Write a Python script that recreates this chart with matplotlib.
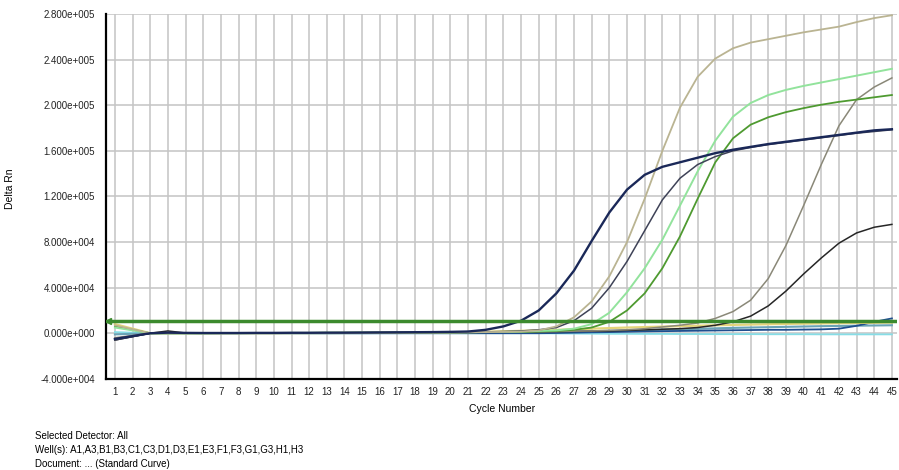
import numpy as np
import matplotlib
matplotlib.use("Agg")
import matplotlib.pyplot as plt
from matplotlib.ticker import FuncFormatter

plt.rcParams['font.family'] = ['Liberation Sans', 'DejaVu Sans']

# Amplification data (Delta Rn per cycle)
cycles = np.arange(1, 46)

navy = [-5000, -2500, 0, 500, 300, 200, 200, 200, 300, 300,
        400, 400, 500, 500, 600, 700, 800, 900, 1000, 1200,
        1500, 3000, 6000, 11000, 20000, 35000, 55000, 81000, 106000, 126000,
        139000, 146000, 150000, 154000, 158000, 161000, 163500, 166000, 168000, 170000,
        172000, 174000, 176000, 178000, 179000]
tan = [7000, 3500, 0, 0, 0, 0, 0, 100, 100, 200,
       200, 300, 300, 400, 400, 500, 500, 600, 700, 800,
       900, 1000, 1200, 1500, 2500, 6000, 14000, 28000, 50000, 80000,
       118000, 160000, 198000, 225000, 241000, 250000, 255000, 258000, 261000, 264000,
       266500, 269000, 273000, 276500, 279000]
slate = [-6000, -3000, 0, 0, 0, 100, 100, 200, 200, 300,
         300, 400, 400, 500, 500, 600, 600, 700, 800, 900,
         1000, 1200, 1500, 2000, 3000, 5000, 11000, 22000, 40000, 63000,
         90000, 117000, 136000, 148000, 155000, 160000, 163000, 165500, 167500, 169500,
         171500, 173500, 175500, 177000, 178500]
light_green = [5000, 2500, 0, 0, 0, 0, 100, 100, 200, 200,
               300, 300, 400, 400, 500, 500, 600, 600, 700, 800,
               900, 1000, 1200, 1500, 2000, 2500, 4000, 8000, 18000, 36000,
               57000, 82000, 112000, 142000, 169000, 190000, 202000, 209000, 213500, 217000,
               220000, 223000, 226000, 229000, 232000]
mid_green = [6000, 3000, 0, 0, 0, 0, 100, 100, 200, 200,
             300, 300, 400, 400, 500, 500, 600, 600, 700, 800,
             900, 1000, 1100, 1300, 1500, 2000, 3000, 5000, 10000, 20000,
             35000, 57000, 85000, 118000, 150000, 171000, 183000, 189500, 194000, 197500,
             200500, 203000, 205000, 207000, 209000]
gray_late = [-4000, -2000, 0, 0, 0, 0, 0, 100, 100, 200,
             200, 300, 300, 400, 400, 500, 500, 600, 600, 700,
             800, 900, 1000, 1100, 1300, 1500, 1800, 2000, 2500, 3000,
             4000, 5500, 7000, 9000, 13000, 19000, 29000, 48000, 77000, 112000,
             148000, 182000, 205000, 216000, 224000]
black_late = [-6000, -3000, 0, 2000, 200, 0, 0, 0, 100, 100,
              200, 200, 300, 300, 400, 400, 500, 500, 600, 600,
              700, 800, 900, 1000, 1200, 1400, 1600, 1800, 2000, 2500,
              3000, 3500, 4000, 5000, 7000, 10000, 15000, 24000, 37000, 52000,
              66000, 79000, 88000, 93000, 95500]
yellow = [8000, 4000, 0, 0, 0, 0, 0, 0, 0, 0,
          100, 100, 200, 200, 300, 300, 400, 500, 600, 800,
          1000, 1300, 1700, 2100, 2600, 3000, 3500, 4000, 4500, 5000,
          5400, 5800, 6200, 6600, 7000, 7300, 7600, 7900, 8200, 8400,
          8600, 8800, 9000, 9200, 9400]
teal = [-1000, -500, 0, 0, 0, 0, 0, 0, 0, 0,
        0, 0, 0, 100, 100, 200, 200, 300, 300, 400,
        500, 600, 700, 800, 1000, 1200, 1500, 1800, 2100, 2400,
        2800, 3100, 3500, 3900, 4300, 4700, 5000, 5300, 5600, 5900,
        6200, 6400, 6600, 6800, 7000]
navy_low = [-5000, -2500, 0, 0, 0, 0, 0, 0, 0, 0,
            0, 0, 0, 0, 0, 0, 0, 0, 0, 0,
            0, 0, 0, 0, 0, 200, 500, 800, 1000, 1300,
            1600, 1800, 2000, 2200, 2400, 2600, 2800, 3000, 3000, 3200,
            3400, 4000, 6500, 10000, 13000]
cyan = [1000, 500, 0, 0, 0, 0, 0, 0, 0, 0,
        0, 0, 0, 0, 0, 0, 0, 0, 0, 0,
        0, 0, 0, 0, 0, -200, -300, -400, -500, -500,
        -600, -600, -700, -700, -800, -800, -800, -900, -900, -900,
        -1000, -1000, -1000, -1000, -1000]
threshold = 10500

series = [
    (cyan, "#86dde6", 1.3),
    (teal, "#6aa3b6", 1.5),
    (navy_low, "#1f4f8f", 1.3),
    (yellow, "#e4d47a", 1.6),
    (black_late, "#262626", 1.1),
    (gray_late, "#8a8878", 1.1),
    (mid_green, "#4e9a30", 1.3),
    (light_green, "#92e39c", 1.4),
    (slate, "#3e4257", 1.1),
    (tan, "#bab492", 1.3),
    (navy, "#1a2858", 1.7),
]

fig = plt.figure(figsize=(8.99, 4.70), dpi=100)
ax = fig.add_axes([0.118, 0.194, 0.880, 0.776])

for vals, col, lw in series:
    ax.plot(cycles, vals, color=col, lw=lw, zorder=3)

ax.axhline(threshold, color="#3c8a2e", lw=2.5, zorder=4)
ax.plot([0.62], [threshold], marker="<", color="#3c8a2e", ms=4, zorder=5)


def sci_fmt(v, pos):
    if v == 0:
        return "0.000e+000"
    exp = int(np.floor(np.log10(abs(v))))
    return "{:.3f}e{}{:03d}".format(v / 10 ** exp, "+" if exp >= 0 else "-", abs(exp))


ax.set_xlim(0.5, 45.3)
ax.set_ylim(-40000, 280000)
ax.set_xticks(cycles)
ax.set_yticks(np.arange(-40000, 280001, 40000))
ax.yaxis.set_major_formatter(FuncFormatter(sci_fmt))
ax.grid(True, color="#c4c4c4", lw=1.1, zorder=0)
ax.set_axisbelow(True)
ax.tick_params(length=0, labelsize=7, colors="#222222")
ax.tick_params(axis="x", pad=6)
ax.tick_params(axis="y", pad=8)

for s in ["top", "right"]:
    ax.spines[s].set_visible(False)
ax.spines["left"].set_linewidth(1.6)
ax.spines["bottom"].set_linewidth(1.6)

ax.set_xlabel("Cycle Number", fontsize=7.5, labelpad=5)
ax.set_ylabel("Delta Rn", fontsize=7.5)
ax.yaxis.set_label_coords(-0.115, 0.52)

fig.text(0.039, 0.067, "Selected Detector: All", fontsize=7)
fig.text(0.039, 0.037, "Well(s): A1,A3,B1,B3,C1,C3,D1,D3,E1,E3,F1,F3,G1,G3,H1,H3", fontsize=7)
fig.text(0.039, 0.007, "Document: ... (Standard Curve)", fontsize=7)

fig.savefig("out.png", dpi=100)
